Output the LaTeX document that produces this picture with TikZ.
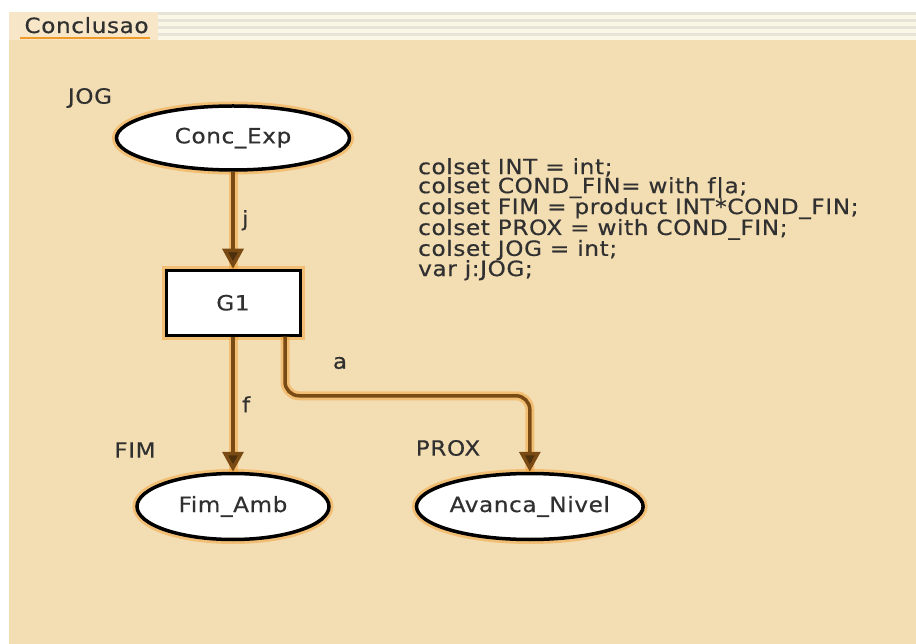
\documentclass[tikz,border=0pt]{standalone}
\usepackage{fontspec}
\setmainfont{DejaVu Sans}[FakeStretch=1.1,LetterSpace=3,FakeBold=0.5]
\usetikzlibrary{positioning,shapes.geometric,arrows.meta}
\definecolor{canvas}{HTML}{F3DDB3}
\definecolor{tabbg}{HTML}{F7E6C8}
\definecolor{stripe}{HTML}{E6E4D8}
\definecolor{cream}{HTML}{FAF7E6}
\definecolor{arcbrown}{HTML}{7A4A14}
\definecolor{tipbrown}{HTML}{4E300C}
\definecolor{glow}{HTML}{F09A28}
\definecolor{ink}{HTML}{303030}

\begin{document}
\begin{tikzpicture}[%
    x=1pt,y=1pt,font=\fontsize{21}{20}\selectfont,text=ink,
    >={Triangle[width=21pt,length=20pt,fill=tipbrown]},
    halo/.style={preaction={-,draw=glow,line width=9pt,opacity=0.45}},
    place/.style={%
      ellipse,draw,line width=3.5pt,fill=white,halo,inner sep=0pt},
    trans/.style={%
      rectangle,draw,line width=3pt,fill=white,halo,
      minimum width=134pt,minimum height=65pt},
    flow/.style={->,draw=arcbrown,line width=3.5pt,halo}
  ]
    % sheet and tab
    \useasboundingbox (0,0) rectangle (916,-644);
    \fill[canvas] (9,-40) rectangle (916,-644);
    \fill[tabbg] (9,-12) rectangle (158,-40);
    \fill[cream] (158,-12) rectangle (916,-40);
    \foreach \y in {13.5,20.5,27.5,34.5}
      \draw[stripe,line width=2.5pt] (158,-\y) -- (916,-\y);
    \draw[glow,line width=2pt] (20,-38) -- (150,-38);
    \node[anchor=base west] (tab) at (21,-33) {Conclusao};

    % net
    \node[place,minimum width=233pt,minimum height=64pt] (concexp) at (233,-138) {Conc\_Exp};
    \node[trans] (g1) [below=97pt of concexp] {G1};
    \node[place,minimum width=192pt,minimum height=66pt] (fimamb) [below=135pt of g1] {Fim\_Amb};
    \node[place,minimum width=198pt,minimum height=66pt] (avanca) [right=84pt of fimamb] {Avanca\_Nivel};

    \node (jog)  at (90,-98)   {JOG};
    \node (fim)  at (135,-450) {FIM};
    \node (prox) at (448,-448) {PROX};

    \path (concexp) edge[flow] node[right=4pt] {j} (g1)
          (g1)      edge[flow] node[right=4pt] {f} (fimamb);
    \draw[flow,rounded corners=14pt] ([xshift=52pt]g1.south) -- ++(0,-59) -| (avanca.north);
    \node (alab) at (340,-363) {a};

    % declarations
    \node[anchor=north west,align=left,inner sep=0pt] (decl) at (418,-158) {%
      colset INT = int;\\[-1pt]
      colset COND\_FIN= with f|a;\\[-1pt]
      colset FIM = product INT*COND\_FIN;\\[-1pt]
      colset PROX = with COND\_FIN;\\[-1pt]
      colset JOG = int;\\[-1pt]
      var j:JOG;};
\end{tikzpicture}
\end{document}
